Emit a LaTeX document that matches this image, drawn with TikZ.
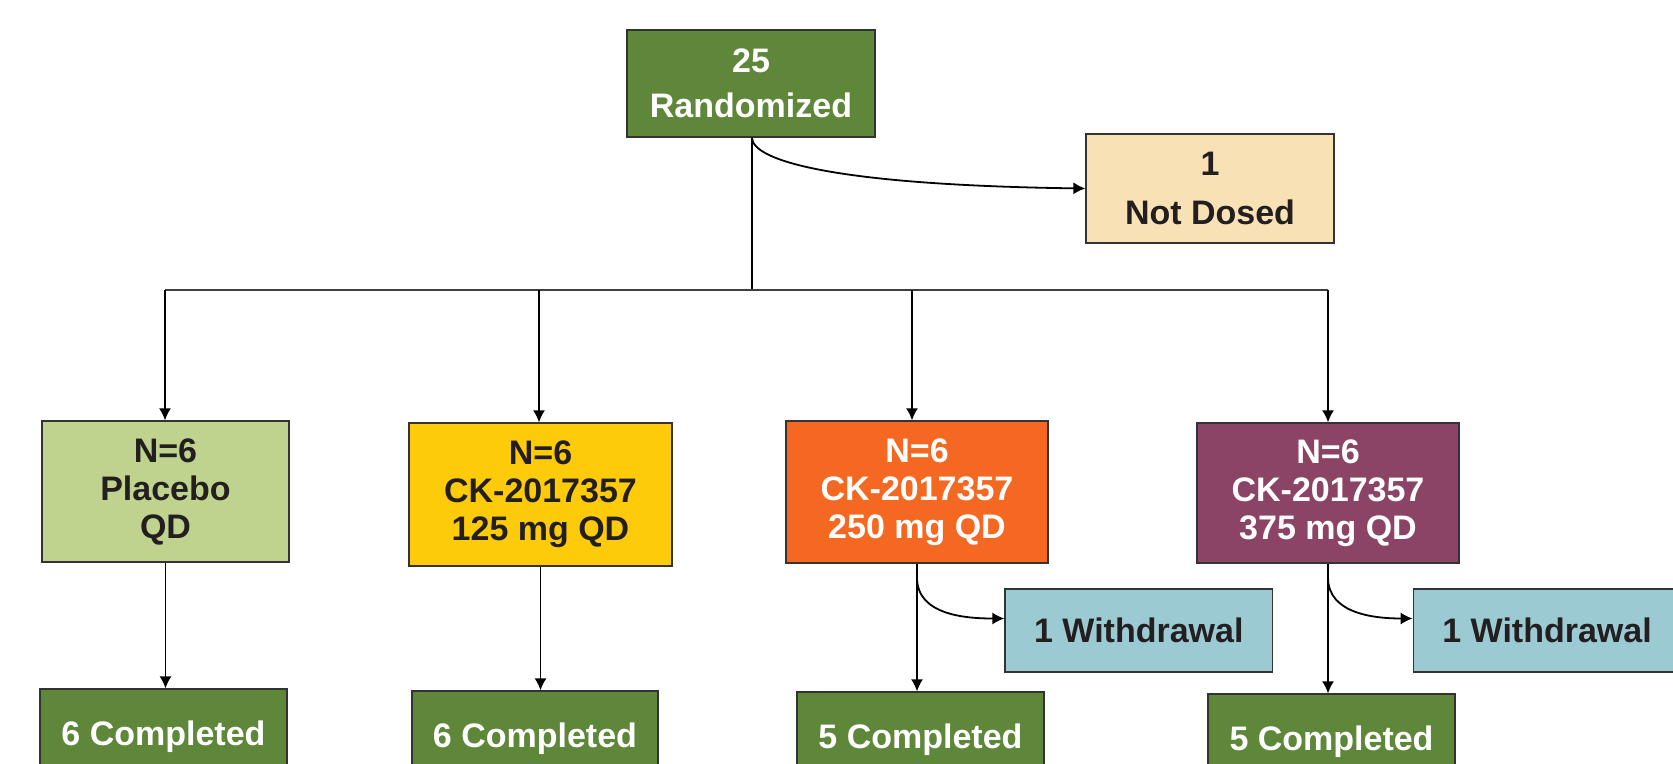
\documentclass[tikz,border=0pt]{standalone}
\usepackage{fontspec}
\setmainfont{Liberation Sans}
\usetikzlibrary{arrows.meta}
\definecolor{cgreen}{HTML}{5E8739}
\definecolor{cpeach}{HTML}{F8E1B5}
\definecolor{clime}{HTML}{BFD38E}
\definecolor{cyell}{HTML}{FDCB09}
\definecolor{corange}{HTML}{F46822}
\definecolor{cplum}{HTML}{8B4466}
\definecolor{cblue}{HTML}{9CCAD3}
\definecolor{cdark}{HTML}{231F20}
\begin{document}
\begin{tikzpicture}[x=0.5pt,y=-0.5pt,
  box/.style={draw=black!80, line width=0.6pt, inner sep=0pt, align=center, text=cdark,
    font=\bfseries\fontsize{17}{19}\selectfont},
  done/.style={box, fill=cgreen, text=white, minimum width=123.5pt, minimum height=48pt},
  drop/.style={box, fill=cblue, minimum width=133.75pt, minimum height=41.5pt},
  link/.style={-{Latex[length=6pt,width=6pt]}, line width=0.9pt}]
\useasboundingbox (0,0) rectangle (1673,764);
\clip (0,0) rectangle (1673,764);
\node [box, fill=cgreen, text=white, minimum width=124pt, minimum height=53.5pt,
  font=\bfseries\fontsize{17}{22.5}\selectfont] (r) at (751,83.5) {25\\Randomized};
\node [box, fill=cpeach, minimum width=124pt, minimum height=54.5pt,
  font=\bfseries\fontsize{17}{24.5}\selectfont] (nd) at (1210,188.5) {1\\Not Dosed};
\node [box, fill=clime, minimum width=123.5pt, minimum height=70.5pt] (a1) at (165.5,491.5) {N=6\\Placebo\\QD};
\node [box, fill=cyell, minimum width=131.5pt, minimum height=71.5pt] (a2) at (540.5,494.5) {N=6\\CK-2017357\\125 mg QD};
\node [box, fill=corange, text=white, minimum width=131pt, minimum height=71pt] (a3) at (917,492) {N=6\\CK-2017357\\250 mg QD};
\node [box, fill=cplum, text=white, minimum width=131pt, minimum height=70pt] (a4) at (1328,493) {N=6\\CK-2017357\\375 mg QD};
\node [done] (c1) at (163.5,737) {6 Completed};
\node [done, minimum width=123pt] (c2) at (535,739) {6 Completed};
\node [done] (c3) at (920.5,740) {5 Completed};
\node [done] (c4) at (1331.5,742) {5 Completed};
\node [drop] (w3) at (1138.75,630.5) {1 Withdrawal};
\node [drop] (w4) at (1547,630.5) {1 Withdrawal};
\coordinate (b0) at (752,290);
\coordinate (b1) at (165,290);
\coordinate (b2) at (539,290);
\coordinate (b3) at (912,290);
\coordinate (b4) at (1328,290);
\draw [line width=1.1pt] (r.south -| b0) -- (b0);
\draw [line width=0.6pt, black!75] (b1) -- (b4);
\draw [link] (r.south -| b0) .. controls (752,160) and (830,185) .. (nd.west);
\foreach \i in {1,...,4}
  \draw [link] (b\i) -- (b\i |- a\i.north);
\foreach \i in {1,...,4}
  \draw [link] (a\i.south) -- (a\i.south |- c\i.north);
\draw [link] ([yshift=-7pt]a3.south) to[out=-90,in=180] ([yshift=6pt]w3.west);
\draw [link] ([yshift=-7pt]a4.south) to[out=-90,in=180] ([yshift=6pt]w4.west);
\end{tikzpicture}
\end{document}
